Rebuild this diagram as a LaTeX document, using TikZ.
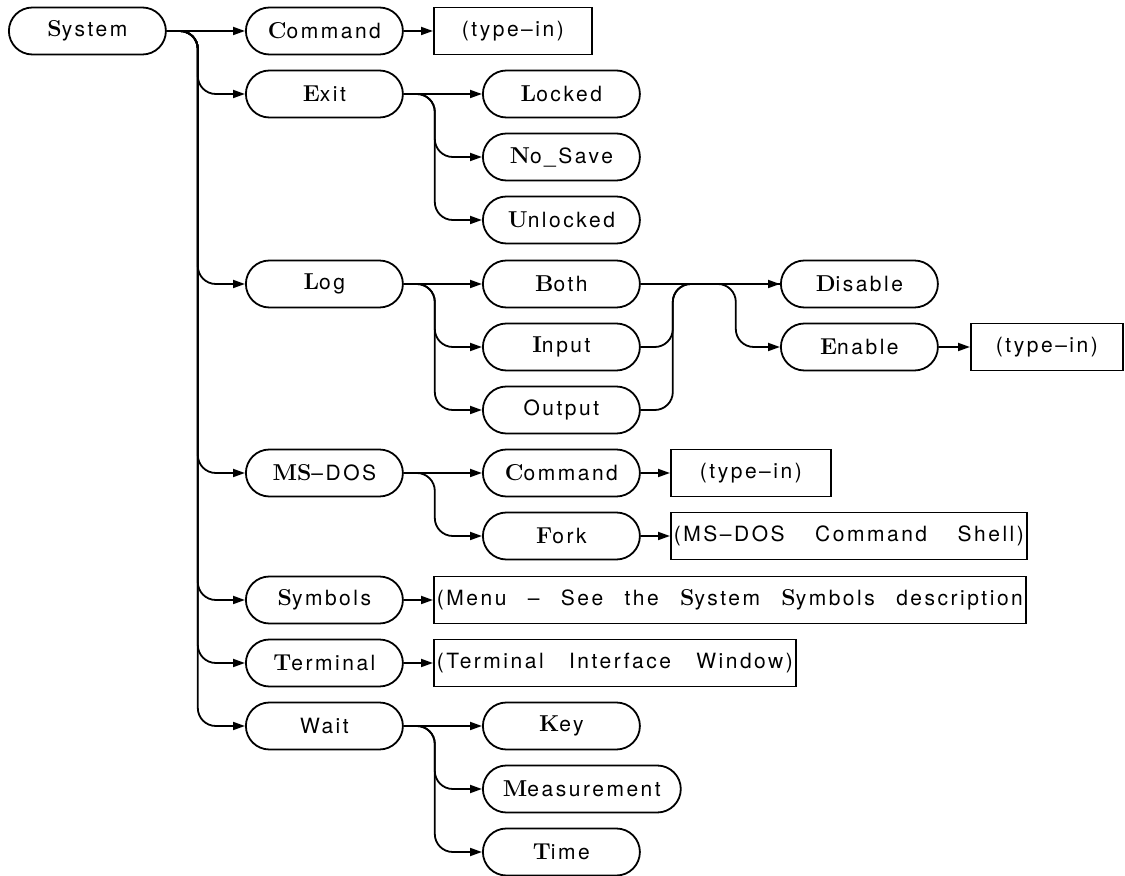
\documentclass[tikz,border=0pt]{standalone}
\usepackage{fontspec}
\setsansfont{TeX Gyre Heros}[LetterSpace=12]
\usetikzlibrary{arrows.meta, shapes.misc, positioning}
\newcommand{\bfl}[1]{{\rmfamily\bfseries\fontsize{11.5}{12}\selectfont #1}}
\newcommand{\menufont}{\sffamily\fontsize{10.5}{12}\selectfont}
\newcommand{\spread}[2]{\makebox[#1][s]{#2}}

\begin{document}
\begin{tikzpicture}[x=0.5pt, y=-0.5pt, >={Triangle[length=6pt,width=4pt]},
    line width=0.9pt, font=\menufont,
    menu/.style={rectangle, rounded corners=11.75pt, draw, minimum width=78.5pt,
                 minimum height=23.5pt, inner xsep=10pt, anchor=west},
    typein/.style={rectangle, draw, minimum height=23.5pt, inner xsep=1.5pt,
                   anchor=west, align=center},
    link/.style={->, rounded corners=9pt},
    merge/.style={rounded corners=9pt}]
  \useasboundingbox (0,0) rectangle (1125,876);
  % premier niveau
  \node[menu] (system) at (8,31) {\bfl{S}ystem};
  \node[menu] (command) at (245,31) {\bfl{C}ommand};
  \node[menu] (exit) at (245,94) {\bfl{E}xit};
  \node[menu] (log) at (245,284) {\bfl{L}og};
  \node[menu] (msdos) at (245,473) {\bfl{MS}--DOS};
  \node[menu] (symbols) at (245,600) {\bfl{S}ymbols};
  \node[menu] (terminal) at (245,663) {\bfl{T}erminal};
  \node[menu] (wait) at (245,726) {Wait};
  % second niveau
  \node[typein, text width=76pt] (cmdin) at (433,31) {(type--in)};
  \node[menu] (locked) at (482,94) {\bfl{L}ocked};
  \node[menu] (nosave) at (482,157) {\bfl{N}o\_Save};
  \node[menu] (unlocked) at (482,220) {\bfl{U}nlocked};
  \node[menu] (both) at (482,284) {\bfl{B}oth};
  \node[menu] (input) at (482,347) {\bfl{I}nput};
  \node[menu] (output) at (482,410) {Output};
  \node[menu] (doscmd) at (482,473) {\bfl{C}ommand};
  \node[menu] (fork) at (482,536) {\bfl{F}ork};
  \node[typein] (symmenu) at (433,600)
      {\spread{293pt}{(Menu -- See the \bfl{S}ystem \bfl{S}ymbols description}};
  \node[typein] (termwin) at (433,663)
      {\spread{178pt}{(Terminal Interface Window)}};
  \node[menu] (key) at (482,726) {\bfl{K}ey};
  \node[menu] (measure) at (482,789) {\bfl{M}easurement};
  \node[menu] (time) at (482,852) {\bfl{T}ime};
  % troisieme niveau
  \node[menu] (disable) at (780,284) {\bfl{D}isable};
  \node[menu] (enable) at (780,347) {\bfl{E}nable};
  \node[typein, text width=73pt] (enablein) at (970,347) {(type--in)};
  \node[typein, text width=77pt] (doscmdin) at (670,473) {(type--in)};
  \node[typein] (shell) at (670,536)
      {\spread{175pt}{(MS--DOS Command Shell)}};
  % liaisons
  \draw[->] (system.east) -- (command.west);
  \foreach \n in {exit,log,msdos,symbols,terminal,wait}
    \draw[link] (system.east) -- ++(31,0) |- (\n.west);
  \draw[->] (command.east) -- (cmdin.west);
  \draw[->] (exit.east) -- (locked.west);
  \foreach \n in {nosave,unlocked}
    \draw[link] (exit.east) -- ++(31,0) |- (\n.west);
  \draw[->] (log.east) -- (both.west);
  \foreach \n in {input,output}
    \draw[link] (log.east) -- ++(31,0) |- (\n.west);
  \draw[->] (both.east) -- (disable.west);
  \foreach \n in {input,output}
    \draw[merge] (\n.east) -- ++(32,0) |- (disable.west);
  \draw[link] (both.east) -- ++(95,0) |- (enable.west);
  \draw[->] (enable.east) -- (enablein.west);
  \draw[->] (msdos.east) -- (doscmd.west);
  \draw[link] (msdos.east) -- ++(31,0) |- (fork.west);
  \draw[->] (doscmd.east) -- (doscmdin.west);
  \draw[->] (fork.east) -- (shell.west);
  \draw[->] (symbols.east) -- (symmenu.west);
  \draw[->] (terminal.east) -- (termwin.west);
  \draw[->] (wait.east) -- (key.west);
  \foreach \n in {measure,time}
    \draw[link] (wait.east) -- ++(31,0) |- (\n.west);
\end{tikzpicture}
\end{document}
